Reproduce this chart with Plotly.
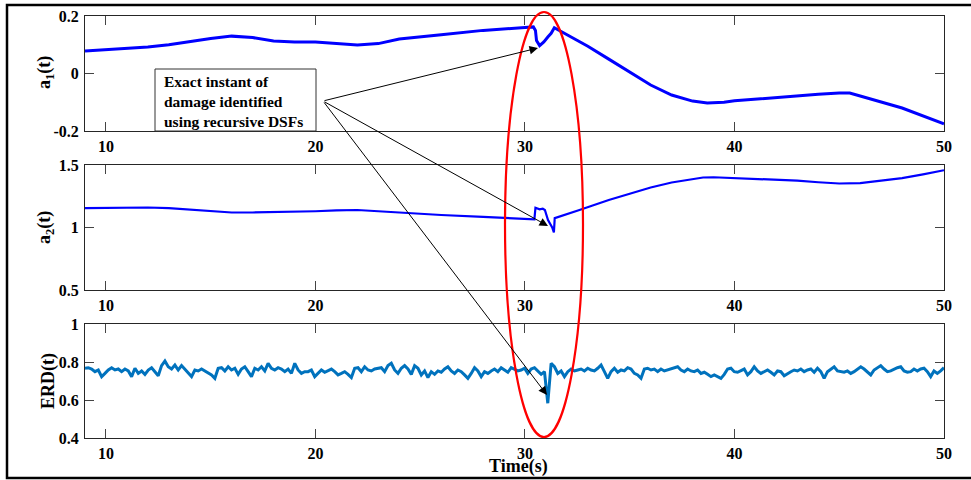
import numpy as np
import plotly.graph_objects as go

# ---------------- data ----------------
a1_t = [9, 10, 12, 13, 14, 15, 16, 17, 18, 19, 20, 21, 22, 23, 24, 26, 28, 30, 30.4,
        30.5, 30.55, 30.7, 30.9, 31.1, 31.25, 31.4, 31.5, 33, 34, 35, 36, 37, 38, 38.7,
        39.5, 40, 42, 44, 45, 45.5, 46, 48, 50]
a1_v = [0.078, 0.082, 0.092, 0.100, 0.112, 0.122, 0.130, 0.125, 0.113, 0.110, 0.110,
        0.104, 0.099, 0.104, 0.120, 0.135, 0.150, 0.160, 0.162,
        0.150, 0.115, 0.097, 0.110, 0.128, 0.140, 0.159, 0.155, 0.095, 0.050, 0.005,
        -0.040, -0.075, -0.096, -0.103, -0.100, -0.095, -0.083, -0.072, -0.068, -0.068,
        -0.078, -0.120, -0.175]

a2_t = [9, 10, 12, 13, 14, 15, 16, 17, 18, 19, 20, 21, 22, 23, 24, 25, 26, 28, 30,
        30.45, 30.5, 30.7, 30.85, 30.95, 31.1, 31.3, 31.38, 31.42, 32.6, 34, 35, 36, 37,
        38, 38.5, 39, 40, 41, 42, 43, 44, 45, 46, 47, 48, 49, 50]
a2_v = [1.155, 1.157, 1.160, 1.155, 1.142, 1.128, 1.120, 1.120, 1.123, 1.125, 1.130,
        1.137, 1.140, 1.130, 1.118, 1.108, 1.100, 1.085, 1.070,
        1.065, 1.158, 1.145, 1.150, 1.140, 1.060, 1.000, 0.960, 1.075, 1.140, 1.220,
        1.270, 1.320, 1.360, 1.390, 1.400, 1.402, 1.395, 1.388, 1.383, 1.375, 1.362,
        1.352, 1.355, 1.372, 1.395, 1.425, 1.458]

erd_v = [
    0.767, 0.770, 0.763, 0.749, 0.758, 0.723, 0.740, 0.758, 0.770, 0.758,
    0.763, 0.749, 0.763, 0.753, 0.723, 0.767, 0.740, 0.753, 0.735, 0.758,
    0.770, 0.749, 0.728, 0.781, 0.805, 0.775, 0.763, 0.784, 0.758, 0.781,
    0.763, 0.740, 0.723, 0.758, 0.753, 0.763, 0.753, 0.740, 0.732, 0.714,
    0.767, 0.770, 0.753, 0.775, 0.758, 0.767, 0.735, 0.763, 0.775, 0.749,
    0.723, 0.767, 0.758, 0.775, 0.753, 0.793, 0.767, 0.758, 0.770, 0.763,
    0.749, 0.763, 0.740, 0.793, 0.758, 0.740, 0.749,
    0.749, 0.758, 0.723, 0.740, 0.758, 0.746, 0.753, 0.763, 0.749, 0.732,
    0.740, 0.749, 0.735, 0.718, 0.767, 0.770, 0.749, 0.775, 0.758, 0.753,
    0.763, 0.767, 0.770, 0.749, 0.781, 0.793, 0.758, 0.740, 0.767, 0.781,
    0.763, 0.735, 0.781, 0.767, 0.732, 0.753, 0.718, 0.749, 0.735, 0.753,
    0.746, 0.763, 0.775, 0.753, 0.740, 0.758, 0.749, 0.732, 0.714, 0.740,
    0.770, 0.753, 0.723, 0.749, 0.740, 0.753, 0.763, 0.749, 0.770, 0.758,
    0.746, 0.770, 0.763, 0.753,
    0.758, 0.767, 0.740, 0.763, 0.770, 0.753, 0.735, 0.749, 0.583, 0.793,
    0.775, 0.740, 0.753, 0.723, 0.749, 0.763, 0.753, 0.758, 0.763, 0.753,
    0.767, 0.758, 0.753, 0.767, 0.784, 0.749, 0.714, 0.749, 0.767, 0.746,
    0.758, 0.753, 0.770, 0.763, 0.740, 0.732, 0.714, 0.763, 0.767, 0.758,
    0.763, 0.749, 0.763, 0.753, 0.758, 0.763, 0.767, 0.775, 0.758, 0.749,
    0.763, 0.753, 0.749, 0.758, 0.740, 0.746, 0.735, 0.723, 0.732, 0.723,
    0.714, 0.735, 0.763, 0.767, 0.749,
    0.746, 0.753, 0.763, 0.732, 0.749, 0.775, 0.753, 0.740, 0.749, 0.758,
    0.746, 0.732, 0.753, 0.749, 0.728, 0.740, 0.749, 0.758, 0.753, 0.763,
    0.749, 0.758, 0.763, 0.746, 0.767, 0.749, 0.714, 0.749, 0.763, 0.775,
    0.753, 0.749, 0.746, 0.753, 0.740, 0.749, 0.763, 0.775, 0.763, 0.749,
    0.732, 0.758, 0.770, 0.781, 0.763, 0.749, 0.753, 0.763, 0.770, 0.775,
    0.753, 0.746, 0.749, 0.763, 0.753, 0.763, 0.767, 0.749, 0.723, 0.753,
    0.740, 0.753, 0.770,
]
erd_t = np.linspace(9, 50, len(erd_v))

x_ticks = [10, 20, 30, 40, 50]
y1_ticks = [-0.2, 0, 0.2]
y2_ticks = [0.5, 1, 1.5]
y3_ticks = [0.4, 0.6, 0.8, 1]

# ---------------- figure ----------------
W, H = 971, 480
FONT = "Liberation Serif"

def px(x):
    return x / W

def py(y):
    return 1 - y / H

fig = go.Figure()
fig.add_trace(go.Scatter(x=a1_t, y=a1_v, mode="lines", line=dict(color="#0000FF", width=3),
                         xaxis="x", yaxis="y", showlegend=False))
fig.add_trace(go.Scatter(x=a2_t, y=a2_v, mode="lines", line=dict(color="#0000FF", width=2.2),
                         xaxis="x2", yaxis="y2", showlegend=False))
fig.add_trace(go.Scatter(x=erd_t, y=erd_v, mode="lines", line=dict(color="#0072BD", width=3),
                         xaxis="x3", yaxis="y3", showlegend=False))

tickfont = dict(family=FONT, size=16, color="black", weight="bold")
common_x = dict(range=[9, 50], tickvals=x_ticks, ticks="inside", ticklen=9, tickcolor="#444",
                showline=True, linecolor="#262626", linewidth=1, mirror="ticks",
                showgrid=False, zeroline=False, tickfont=tickfont, ticklabelstandoff=1,
                domain=[px(85), px(944)])
common_y = dict(ticks="inside", ticklen=9, tickcolor="#444", showline=True,
                linecolor="#262626", linewidth=1, mirror="ticks", showgrid=False,
                zeroline=False, tickfont=tickfont, ticklabelstandoff=2)

fig.update_layout(
    width=W, height=H,
    margin=dict(l=0, r=0, t=0, b=0, autoexpand=False),
    paper_bgcolor="white", plot_bgcolor="white",
    xaxis=dict(**common_x, anchor="y"),
    yaxis=dict(**common_y, range=[-0.2, 0.2], tickvals=y1_ticks, ticktext=["-0.2", "0", "0.2"],
               domain=[py(131), py(16)], anchor="x"),
    xaxis2=dict(**common_x, anchor="y2"),
    yaxis2=dict(**common_y, range=[0.5, 1.5], tickvals=y2_ticks, ticktext=["0.5", "1", "1.5"],
                domain=[py(290), py(165)], anchor="x2"),
    xaxis3=dict(**common_x, anchor="y3"),
    yaxis3=dict(**common_y, range=[0.4, 1.0], tickvals=y3_ticks,
                ticktext=["0.4", "0.6", "0.8", "1"],
                domain=[py(438), py(324)], anchor="x3"),
)

titlefont = dict(family=FONT, size=18, color="black", weight="bold")
annotations = [
    dict(text="a<sub>1</sub>(t)", x=px(45), y=py(73), textangle=-90),
    dict(text="a<sub>2</sub>(t)", x=px(45), y=py(228), textangle=-90),
    dict(text="ERD(t)", x=px(48), y=py(381), textangle=-90),
    dict(text="Time(s)", x=px(518), y=py(466), textangle=0),
]
for a in annotations:
    fig.add_annotation(xref="paper", yref="paper", showarrow=False, font=titlefont,
                       xanchor="center", yanchor="middle", **a)

# text box (rectangle + text)
fig.add_shape(type="rect", xref="paper", yref="paper", x0=px(155), x1=px(316),
              y0=py(131), y1=py(69), line=dict(color="#333", width=1), fillcolor="white",
              layer="above")
fig.add_annotation(xref="paper", yref="paper", x=px(162), y=py(101), xanchor="left",
                   yanchor="middle", showarrow=False, align="left",
                   text="Exact instant of<br>damage identified<br>using recursive DSFs",
                   font=dict(family=FONT, size=15.5, color="black", weight="bold"))

# arrows (tail given as pixel offset from head)
tail = (323, 101)
for head in [(538, 48), (548, 226), (547, 395)]:
    fig.add_annotation(xref="paper", yref="paper",
                       x=px(head[0]), y=py(head[1]),
                       ax=tail[0] - head[0], ay=tail[1] - head[1],
                       text="", showarrow=True, arrowhead=2, arrowsize=1.7,
                       arrowwidth=1, arrowcolor="black")

# red ellipse
fig.add_shape(type="circle", xref="paper", yref="paper", x0=px(505), x1=px(583),
              y0=py(437), y1=py(12), line=dict(color="#FF0000", width=2.2))

# outer frame
fig.add_shape(type="rect", xref="paper", yref="paper", x0=px(7), x1=px(990),
              y0=py(478), y1=py(5), line=dict(color="black", width=2.5))

fig.write_html("out.html", config={"displayModeBar": False},
               post_script="document.body.style.margin='0px';")
